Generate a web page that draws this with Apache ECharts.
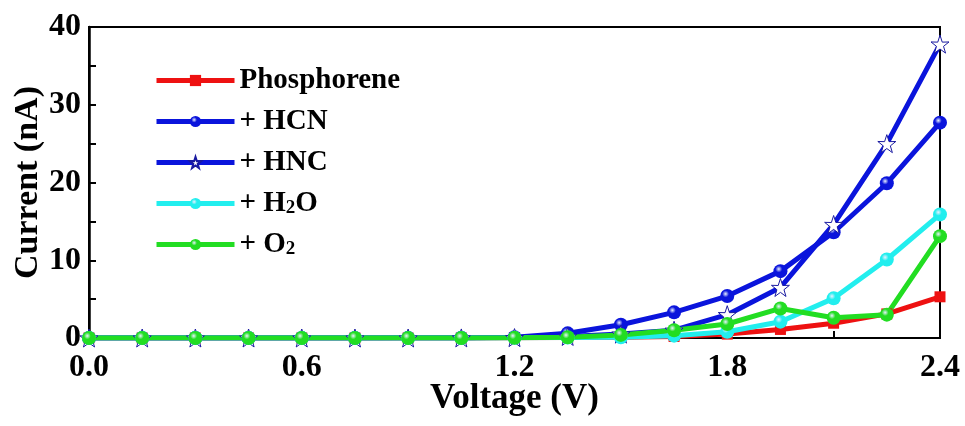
<!DOCTYPE html>
<html>
<head>
    <meta charset="utf-8">
    <title>I-V curve</title>
    <script src="https://cdn.jsdelivr.net/npm/echarts@6/dist/echarts.min.js"></script>
    <style>
        html, body { margin: 0; padding: 0; background: #fff; }
        #main { width: 965px; height: 426px; }
    </style>
</head>
<body>
    <div id="main"></div>
    <script>
        // voltage steps (V)
        var voltage = [0, 0.15, 0.3, 0.45, 0.6, 0.75, 0.9, 1.05, 1.2, 1.35, 1.5, 1.65, 1.8, 1.95, 2.1, 2.25, 2.4];
        // current (nA)
        var phosphorene = [0, 0, 0, 0, 0, 0, 0, 0, 0.02, 0.05, 0.1, 0.2, 0.5, 1.1, 1.9, 3.1, 5.3];
        var hcn = [0, 0.01, 0.01, 0.01, 0.01, 0.01, 0.02, 0.03, 0.1, 0.6, 1.7, 3.3, 5.4, 8.6, 13.6, 19.9, 27.7];
        var hnc = [0, 0, 0, 0, 0, 0, 0, 0.01, 0.05, 0.2, 0.5, 1.0, 3.0, 6.5, 14.6, 25.0, 37.8];
        var h2o = [0, 0, 0, 0, 0, 0, 0, 0, 0.02, 0.05, 0.1, 0.3, 0.8, 2.1, 5.1, 10.1, 15.9];
        var o2 = [0, 0, 0, 0, 0, 0, 0, 0, 0.02, 0.1, 0.4, 1.0, 1.8, 3.8, 2.6, 3.0, 13.1];

        var xTicks = { min: 0, max: 2.4, interval: 0.6 };
        var yTicks = { min: 0, max: 40, interval: 10 };

        var star = 'path://M50,0 L61.8,35.3 L97.6,34.5 L68.7,56.5 L79.4,90.5 L50,70 L20.6,90.5 L31.3,56.5 L2.4,34.5 L38.2,35.3 Z';

        function pairs(ys) {
            return voltage.map(function (v, i) { return [v, ys[i]]; });
        }
        function ball(c) {
            return {
                type: 'radial', x: 0.38, y: 0.35, r: 0.7,
                colorStops: [{ offset: 0, color: '#e8f0ff' }, { offset: 0.35, color: c }, { offset: 1, color: c }]
            };
        }
        function mk(name, ys, color, symbol, size, itemStyle) {
            return {
                name: name,
                type: 'line',
                data: pairs(ys),
                symbol: symbol,
                symbolSize: size,
                lineStyle: { color: color, width: 5 },
                itemStyle: itemStyle,
                emphasis: { disabled: true }
            };
        }

        var myChart = echarts.init(document.getElementById('main'));
        var font = '"Liberation Serif", "Times New Roman", serif';
        var option = {
            animation: false,
            textStyle: { fontFamily: font },
            grid: {
                left: 89, right: 25, top: 27, bottom: 88,
                outerBoundsMode: 'none',
                show: true, borderColor: '#000', borderWidth: 2
            },
            legend: {
                orient: 'vertical',
                left: 149, top: 61,
                itemWidth: 78, itemHeight: 14, itemGap: 12,
                lineStyle: { width: 5 },
                textStyle: {
                    fontFamily: font, fontWeight: 'bold', fontSize: 29, color: '#000',
                    rich: {
                        s: { fontFamily: font, fontWeight: 'bold', fontSize: 19, color: '#000', verticalAlign: 'bottom', padding: [9, 0, 0, 0] }
                    }
                },
                formatter: function (n) {
                    if (n === '+ H2O') return '+ H{s|2}O';
                    if (n === '+ O2') return '+ O{s|2}';
                    return n;
                },
                data: ['Phosphorene', '+ HCN', '+ HNC', '+ H2O', '+ O2']
            },
            xAxis: {
                type: 'value',
                min: xTicks.min, max: xTicks.max, interval: xTicks.interval,
                name: 'Voltage (V)',
                nameLocation: 'middle', nameGap: 43, nameMoveOverlap: false,
                nameTextStyle: { fontFamily: font, fontWeight: 'bold', fontSize: 35, color: '#000' },
                axisLine: { lineStyle: { color: '#000', width: 2 } },
                axisTick: { inside: true, length: 7, lineStyle: { color: '#000', width: 2 } },
                minorTick: { show: true, splitNumber: 2, length: 7, lineStyle: { color: '#000', width: 2 } },
                axisLabel: { fontFamily: font, fontWeight: 'bold', fontSize: 32, color: '#000', margin: 14,
                    formatter: function (v) { return v.toFixed(1); } },
                splitLine: { show: false }
            },
            yAxis: {
                type: 'value',
                min: yTicks.min, max: yTicks.max, interval: yTicks.interval,
                name: 'Current (nA)',
                nameLocation: 'middle', nameGap: 44, nameMoveOverlap: false,
                nameTextStyle: { fontFamily: font, fontWeight: 'bold', fontSize: 34, color: '#000' },
                axisLine: { lineStyle: { color: '#000', width: 2.5 } },
                axisTick: { inside: true, length: 7, lineStyle: { color: '#000', width: 2 } },
                minorTick: { show: true, splitNumber: 2, length: 7, lineStyle: { color: '#000', width: 2 } },
                axisLabel: { fontFamily: font, fontWeight: 'bold', fontSize: 32, color: '#000', margin: 8 },
                splitLine: { show: false }
            },
            series: [
                mk('Phosphorene', phosphorene, '#ee1111', 'rect', 11, { color: '#ee1111' }),
                mk('+ HCN', hcn, '#0a14dc', 'circle', 14, { color: ball('#0a14dc') }),
                mk('+ HNC', hnc, '#0a14dc', star, 18, { color: '#fff', borderColor: '#1a1aa0', borderWidth: 1 }),
                mk('+ H2O', h2o, '#22eeee', 'circle', 14, { color: ball('#22eeee') }),
                mk('+ O2', o2, '#22dd22', 'circle', 14, { color: ball('#22dd22') })
            ]
        };
        myChart.setOption(option);
    </script>
</body>
</html>
